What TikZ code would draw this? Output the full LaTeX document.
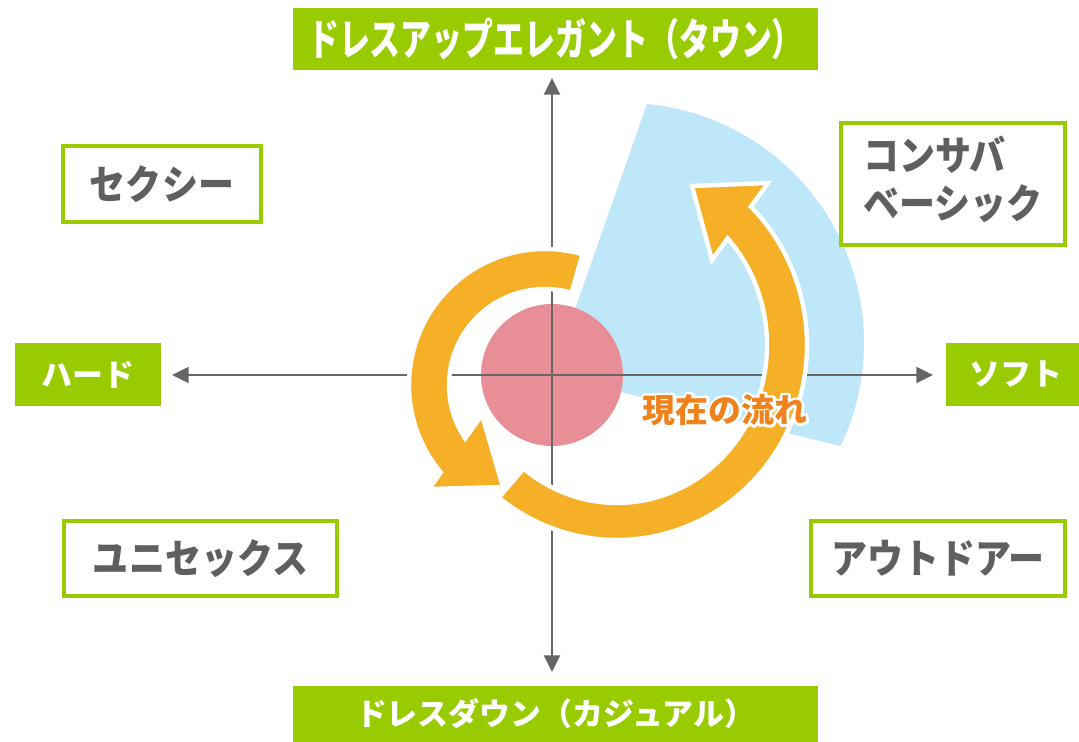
\documentclass[tikz,border=0pt]{standalone}
\usepackage{fontspec}
\usepackage{graphicx}
\newfontfamily\jp{Noto Sans CJK JP}
\usetikzlibrary{arrows.meta,calc}
\definecolor{lgreen}{RGB}{153,204,0}
\definecolor{tgrey}{RGB}{95,95,95}
\definecolor{agrey}{RGB}{102,102,102}
\definecolor{skyb}{RGB}{190,232,249}
\definecolor{pinkc}{RGB}{232,142,150}
\definecolor{orng}{RGB}{245,176,39}
\definecolor{otext}{RGB}{240,130,30}
\newcommand{\tallr}[1]{\scalebox{1}[1.12]{#1}}
\newcommand{\halotext}[1]{\rlap{\color{white}\special{pdf:literal direct 2 Tr 3 w 1 j}#1\special{pdf:literal direct 0 Tr}}#1}
\begin{document}
\begin{tikzpicture}[x=0.02cm,y=-0.02cm,
  greenlab/.style={fill=lgreen,text=white,inner sep=0pt,font=\jp\bfseries\fontsize{17.6pt}{20pt}\selectfont},
  catbox/.style={draw=lgreen,line width=2pt,fill=white,text=tgrey,inner sep=0pt,font=\jp\bfseries\fontsize{20.5pt}{23.3pt}\selectfont},
  axis/.style={draw=agrey,line width=1.5pt,{Triangle[length=9.5pt,width=9pt]}-{Triangle[length=9.5pt,width=9pt]}},
  band/.style={fill=orng,draw=white,line width=2.5pt,line join=miter},
  flowtext/.style={font=\jp\bfseries\fontsize{18.7pt}{20pt}\selectfont,inner sep=0pt}]

\useasboundingbox (0,0) rectangle (1079,742);
\fill[white] (0,0) rectangle (1079,742);

% blue sector
\fill[skyb] (552,375) -- (647,104) arc[start angle=-84.5,end angle=25.5,radius=240] -- cycle;
% pink circle
\fill[pinkc] (552,375) circle[radius=71];
% axes
\coordinate (xl) at (172,375);
\coordinate (xr) at (933,375);
\coordinate (yt) at (552,78);
\coordinate (yb) at (552,672);
\draw[axis] (xl) -- (xr);
\draw[axis] (yt) -- (yb);

% left orange arrow
\coordinate (lc) at (545,385);
\filldraw[band] ($(lc)+(-74:136)$) arc[start angle=-74,end angle=-220,radius=136]
  -- (429,489) -- (503,487) -- (482,415)
  -- ($(lc)+(-213.8:96)$) arc[start angle=-213.8,end angle=-74,radius=96] -- cycle;

% right orange arrow
\coordinate (rc) at (617,345);
\filldraw[band] ($(rc)+({190*cos(128.5)},{195*sin(128.5)})$)
  arc[start angle=128.5,end angle=-45.2,x radius=190,y radius=195]
  -- (768,183) -- (692,186) -- (712,260)
  -- ($(rc)+({150*cos(-42.45)},{158*sin(-42.45)})$)
  arc[start angle=-42.45,end angle=128.5,x radius=150,y radius=158] -- cycle;

% labels
\node[greenlab,minimum width=10.5cm,minimum height=1.24cm] (top) at (555.5,39) {\scalebox{1}[1.4]{ドレスアップエレガント（タウン）}};
\node[greenlab,minimum width=10.5cm,minimum height=1.12cm] (bot) at (555.5,714) {ドレスダウン（カジュアル）};
\node[greenlab,minimum width=2.92cm,minimum height=1.26cm] (hard) at (88,374.5) {ハード};
\node[greenlab,minimum width=2.8cm,minimum height=1.26cm] (soft) at (1016,374.5) {ソフト};

\node[catbox,minimum width=3.96cm,minimum height=1.52cm] (sexy) at (162,184) {\tallr{セクシー}};
\node[catbox,minimum width=4.48cm,minimum height=2.44cm] (cons) at (953,184) {\tallr{\begin{tabular}{@{}l@{}}コンサバ\\ベーシック\end{tabular}}};
\node[catbox,minimum width=5.46cm,minimum height=1.5cm] (unis) at (200.5,558.5) {\tallr{ユニセックス}};
\node[catbox,minimum width=5.08cm,minimum height=1.5cm] (outd) at (938,558.5) {\tallr{アウトドアー}};

% flow text with white halo
\node[flowtext,text=otext] (flow) at (725,410) {\halotext{現在の流れ}};
\end{tikzpicture}
\end{document}
